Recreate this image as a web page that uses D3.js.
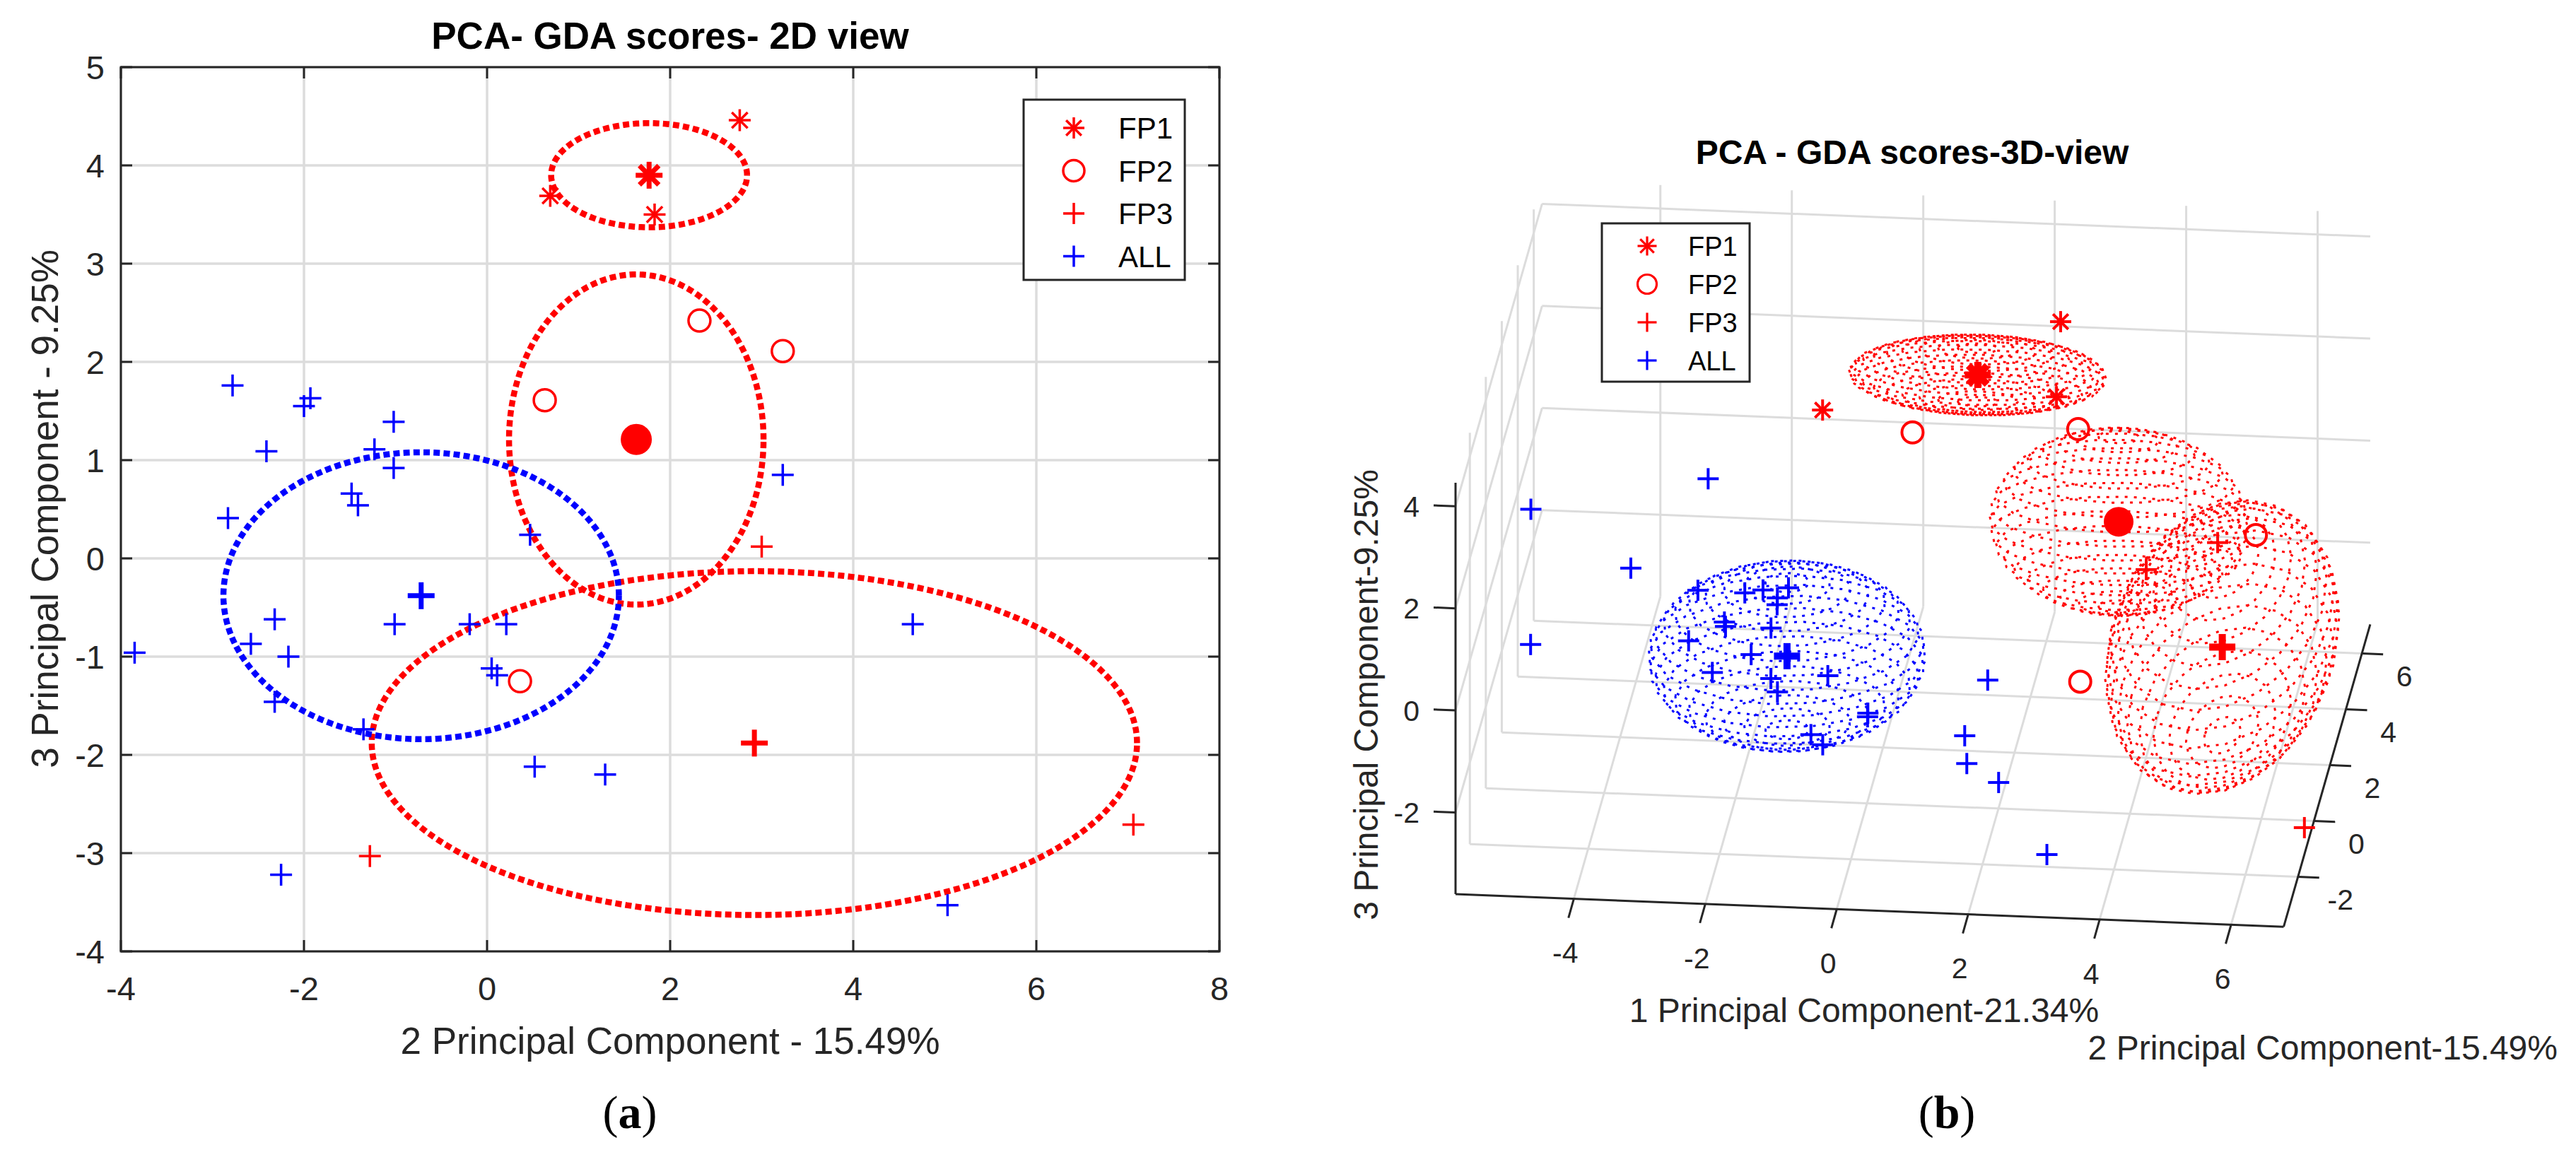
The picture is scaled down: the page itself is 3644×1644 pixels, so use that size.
<!DOCTYPE html>
<html>
<head>
<meta charset="utf-8">
<script src="https://cdn.jsdelivr.net/npm/d3@7"></script>
<style>
  body { margin: 0; background: #fff; }
  text { font-family: "Liberation Sans", Arial, sans-serif; fill: #262626; }
</style>
</head>
<body>
<script>
// ---- data ----
const groups = ["FP1", "FP2", "FP3", "ALL"];
const colors = ["#ff0000", "#ff0000", "#ff0000", "#0000ff"];
const symbols = ["asterisk", "circle", "plus", "plus"];

// scores: pc1 = 1st component, pc2 = 2nd, pc3 = 3rd
const fp1_pc1 = [2.61, -0.76, 2.66];
const fp1_pc2 = [2.76, 0.69, 1.83];
const fp1_pc3 = [4.46, 3.69, 3.50];

const fp2_pc1 = [0.41, 2.82, 5.84, 3.20];
const fp2_pc2 = [2.32, 3.23, 0.63, 0.36];
const fp2_pc3 = [2.42, 2.11, 1.61, -1.25];

const fp3_pc1 = [4.97, 3.39, 6.81];
const fp3_pc2 = [3.00, 7.06, -1.28];
const fp3_pc3 = [0.12, -2.71, -3.03];

const all_pc1 = [2.47, -1.03, -0.96, -2.33, -1.86, -3.47, -1.71, -1.24, -1.99, -1.29, -2.01, -1.64, -2.81, 0.29,
                 -1.34, -1.74, -2.74, -0.54, 1.75, 1.83, -0.61, 1.80, -0.51, -0.05, -1.52, -5.68, -5.73, 3.01];
const all_pc2 = [-3.85, -2.78, -1.93, -2.00, -2.41, -1.02, -1.23, -1.02, -1.48, -1.41, -2.83, 0.47, 3.23, -2.32,
                 -1.01, -0.19, 0.21, -2.58, -2.17, 0.05, 0.11, -2.32, -1.35, 0.52, 1.29, 4.65, 5.03, -2.25];
const all_pc3 = [-0.96, 1.76, 1.63, 1.55, 1.09, 1.39, 1.11, 0.92, 0.66, 0.54, 0.41, 0.24, 0.85, -0.62,
                 -0.67, -0.67, -0.67, -0.87, -1.00, -1.12, -1.19, -1.46, -1.74, -2.12, -2.20, -0.67, -3.53, -3.22];

// group centres and confidence radii (FP1, FP2, FP3, ALL)
const centre_pc1 = [1.47, 3.63, 5.05, -1.13];
const centre_pc2 = [1.77, 1.63, 2.92, -0.72];
const centre_pc3 = [3.90, 1.21, -1.88, -0.38];
const radius_pc1 = [1.96, 1.96, 1.71, 2.10];
const radius_pc2 = [1.07, 1.39, 4.18, 2.16];
const radius_pc3 = [0.53, 1.68, 1.75, 1.46];

const ticks2dX = [-4, -2, 0, 2, 4, 6, 8];
const ticks2dY = [-4, -3, -2, -1, 0, 1, 2, 3, 4, 5];
const ticks3dX = [-4, -2, 0, 2, 4, 6];
const ticks3dY = [-2, 0, 2, 4, 6];
const ticks3dZ = [-2, 0, 2, 4];

const seriesPC1 = [fp1_pc1, fp2_pc1, fp3_pc1, all_pc1];
const seriesPC2 = [fp1_pc2, fp2_pc2, fp3_pc2, all_pc2];
const seriesPC3 = [fp1_pc3, fp2_pc3, fp3_pc3, all_pc3];

const AX = "#262626", GRID = "#dcdcdc";

const svg = d3.select("body").append("svg")
  .attr("width", 3644).attr("height", 1644)
  .style("background", "#fff");

// draw one MATLAB-like marker
function marker(g, type, x, y, size, color, sw, filled) {
  const h = size / 2;
  if (type === "circle") {
    g.append("circle").attr("cx", x).attr("cy", y).attr("r", h)
      .attr("fill", filled ? color : "none")
      .attr("stroke", color).attr("stroke-width", sw);
    return;
  }
  const segs = [[-h, 0, h, 0], [0, -h, 0, h]];
  if (type === "asterisk") {
    const d = h * 0.72;
    segs.push([-d, -d, d, d], [-d, d, d, -d]);
  }
  segs.forEach(s => g.append("line")
    .attr("x1", x + s[0]).attr("y1", y + s[1])
    .attr("x2", x + s[2]).attr("y2", y + s[3])
    .attr("stroke", color).attr("stroke-width", sw));
}

// ================= (a) 2D view =================
const x2 = d3.scaleLinear().domain([-4, 8]).range([171, 1725]);
const y2 = d3.scaleLinear().domain([-4, 5]).range([1346, 95]);
const g2 = svg.append("g");

// grid
g2.selectAll(".gx").data(ticks2dX).join("line")
  .attr("x1", d => x2(d)).attr("x2", d => x2(d))
  .attr("y1", y2(-4)).attr("y2", y2(5))
  .attr("stroke", GRID).attr("stroke-width", 3.5);
g2.selectAll(".gy").data(ticks2dY).join("line")
  .attr("y1", d => y2(d)).attr("y2", d => y2(d))
  .attr("x1", x2(-4)).attr("x2", x2(8))
  .attr("stroke", GRID).attr("stroke-width", 3.5);

// confidence ellipses
const tSteps = d3.range(0, 2 * Math.PI + 0.001, Math.PI / 120);
groups.forEach((grp, i) => {
  const line = d3.line()
    .x(t => x2(centre_pc2[i] + radius_pc2[i] * Math.cos(t)))
    .y(t => y2(centre_pc3[i] + radius_pc3[i] * Math.sin(t)));
  g2.append("path").attr("d", line(tSteps))
    .attr("fill", "none").attr("stroke", colors[i])
    .attr("stroke-width", 8.5).attr("stroke-dasharray", "9 5.2");
});

// points
groups.forEach((grp, i) => {
  seriesPC2[i].forEach((v, k) => {
    marker(g2, symbols[i], x2(v), y2(seriesPC3[i][k]), 31, colors[i], 3.5, false);
  });
});
// centres
groups.forEach((grp, i) => {
  const cx = x2(centre_pc2[i]), cy = y2(centre_pc3[i]);
  if (symbols[i] === "circle") marker(g2, "circle", cx, cy, 42, colors[i], 2, true);
  else marker(g2, symbols[i], cx, cy, 38, colors[i], 7, false);
});

// box + ticks
g2.append("rect").attr("x", x2(-4)).attr("y", y2(5))
  .attr("width", x2(8) - x2(-4)).attr("height", y2(-4) - y2(5))
  .attr("fill", "none").attr("stroke", AX).attr("stroke-width", 3);
ticks2dX.forEach(d => {
  g2.append("line").attr("x1", x2(d)).attr("x2", x2(d)).attr("y1", y2(-4)).attr("y2", y2(-4) - 16).attr("stroke", AX).attr("stroke-width", 3);
  g2.append("line").attr("x1", x2(d)).attr("x2", x2(d)).attr("y1", y2(5)).attr("y2", y2(5) + 16).attr("stroke", AX).attr("stroke-width", 3);
  g2.append("text").attr("x", x2(d)).attr("y", 1398).attr("dy", "0.36em")
    .attr("text-anchor", "middle").attr("font-size", 47).text(d);
});
ticks2dY.forEach(d => {
  g2.append("line").attr("y1", y2(d)).attr("y2", y2(d)).attr("x1", x2(-4)).attr("x2", x2(-4) + 16).attr("stroke", AX).attr("stroke-width", 3);
  g2.append("line").attr("y1", y2(d)).attr("y2", y2(d)).attr("x1", x2(8)).attr("x2", x2(8) - 16).attr("stroke", AX).attr("stroke-width", 3);
  g2.append("text").attr("x", 148).attr("y", y2(d)).attr("dy", "0.36em")
    .attr("text-anchor", "end").attr("font-size", 47).text(d);
});

g2.append("text").attr("x", 948).attr("y", 50).attr("dy", "0.36em")
  .attr("text-anchor", "middle").attr("font-size", 53).attr("font-weight", "bold")
  .style("fill", "#000").text("PCA- GDA scores- 2D view");
g2.append("text").attr("x", 948).attr("y", 1472).attr("dy", "0.36em")
  .attr("text-anchor", "middle").attr("font-size", 53).text("2 Principal Component - 15.49%");
g2.append("text").attr("transform", "translate(63,720) rotate(-90)").attr("dy", "0.36em")
  .attr("text-anchor", "middle").attr("font-size", 53).text("3 Principal Component - 9.25%");

// legend (a)
const lg2 = g2.append("g");
lg2.append("rect").attr("x", 1448).attr("y", 141).attr("width", 228).attr("height", 255)
  .attr("fill", "#fff").attr("stroke", AX).attr("stroke-width", 3);
groups.forEach((grp, i) => {
  const yy = 181 + i * 60.5;
  marker(lg2, symbols[i], 1519, yy, 30, colors[i], 3.5, false);
  lg2.append("text").attr("x", 1582).attr("y", yy).attr("dy", "0.36em")
    .attr("font-size", 42).style("fill", "#000").text(grp);
});

// ================= (b) 3D view =================
const lim = { x: [-5.8, 6.8], y: [-3.79, 7.04], z: [-3.6, 4.46] };
const u3 = d3.scaleLinear().domain(lim.x).range([0, 1]);
const v3 = d3.scaleLinear().domain(lim.y).range([0, 1]);
const w3 = d3.scaleLinear().domain(lim.z).range([0, 1]);
// screen positions of the box origin and of the three axis ends
const O = [2059, 1265], EX = [3230.5, 1311.2], EY = [2181.4, 837.2], EZ = [2059, 683];
function proj(x, y, z) {
  const a = u3(x), b = v3(y), c = w3(z);
  return [O[0] + a * (EX[0] - O[0]) + b * (EY[0] - O[0]) + c * (EZ[0] - O[0]),
          O[1] + a * (EX[1] - O[1]) + b * (EY[1] - O[1]) + c * (EZ[1] - O[1])];
}
const g3 = svg.append("g");
function seg(g, p, q, color, sw) {
  g.append("line").attr("x1", p[0]).attr("y1", p[1]).attr("x2", q[0]).attr("y2", q[1])
    .attr("stroke", color).attr("stroke-width", sw);
}
const [x0, x1] = lim.x, [y0, y1] = lim.y, [z0, z1] = lim.z;

// grid: back wall, left wall, floor
ticks3dX.forEach(d => {
  seg(g3, proj(d, y1, z0), proj(d, y1, z1), GRID, 3);
  seg(g3, proj(d, y0, z0), proj(d, y1, z0), GRID, 3);
});
ticks3dY.forEach(d => {
  seg(g3, proj(x0, d, z0), proj(x0, d, z1), GRID, 3);
  seg(g3, proj(x0, d, z0), proj(x1, d, z0), GRID, 3);
});
ticks3dZ.forEach(d => {
  seg(g3, proj(x0, y1, d), proj(x1, y1, d), GRID, 3);
  seg(g3, proj(x0, y0, d), proj(x0, y1, d), GRID, 3);
});

// axes
seg(g3, proj(x0, y0, z0), proj(x0, y0, z1), AX, 3);
seg(g3, proj(x0, y0, z0), proj(x1, y0, z0), AX, 3);
seg(g3, proj(x1, y0, z0), proj(x1, y1, z0), AX, 3);

ticks3dX.forEach(d => {
  const p = proj(d, y0, z0);
  seg(g3, p, [p[0] - 7.6, p[1] + 27], AX, 3);
  g3.append("text").attr("x", p[0] - 12).attr("y", p[1] + 76).attr("dy", "0.36em")
    .attr("text-anchor", "middle").attr("font-size", 41).text(d);
});
ticks3dY.forEach(d => {
  const p = proj(x1, d, z0);
  seg(g3, p, [p[0] + 30, p[1] + 1.2], AX, 3);
  g3.append("text").attr("x", p[0] + 60).attr("y", p[1] + 32).attr("dy", "0.36em")
    .attr("text-anchor", "middle").attr("font-size", 41).text(d);
});
ticks3dZ.forEach(d => {
  const p = proj(x0, y0, d);
  seg(g3, p, [p[0] - 31, p[1] - 1.2], AX, 3);
  g3.append("text").attr("x", 2008).attr("y", p[1]).attr("dy", "0.36em")
    .attr("text-anchor", "end").attr("font-size", 41).text(d);
});

// ellipsoid wireframes: latitude rings of MATLAB's ellipsoid (n = 20)
const n = 20;
const thetas = d3.range(n + 1).map(i => -Math.PI + 2 * Math.PI * i / n);
const phis = d3.range(n + 1).map(i => -Math.PI / 2 + Math.PI * i / n);
const pl = d3.line();
groups.forEach((grp, i) => {
  const pt = (th, ph) => proj(
    centre_pc1[i] + radius_pc1[i] * Math.cos(ph) * Math.cos(th),
    centre_pc2[i] + radius_pc2[i] * Math.cos(ph) * Math.sin(th),
    centre_pc3[i] + radius_pc3[i] * Math.sin(ph));
  const wg = g3.append("g").attr("fill", "none").attr("stroke", colors[i])
    .attr("stroke-width", 3).attr("stroke-dasharray", "4 9");
  phis.slice(1, -1).forEach(ph => wg.append("path").attr("d", pl(thetas.map(th => pt(th, ph)))));
});

// points
groups.forEach((grp, i) => {
  seriesPC1[i].forEach((v, k) => {
    const p = proj(v, seriesPC2[i][k], seriesPC3[i][k]);
    marker(g3, symbols[i], p[0], p[1], 30, colors[i], 4, false);
  });
});
groups.forEach((grp, i) => {
  const p = proj(centre_pc1[i], centre_pc2[i], centre_pc3[i]);
  if (symbols[i] === "circle") marker(g3, "circle", p[0], p[1], 40, colors[i], 2, true);
  else marker(g3, symbols[i], p[0], p[1], 37, colors[i], 10, false);
});

g3.append("text").attr("x", 2705).attr("y", 215).attr("dy", "0.36em")
  .attr("text-anchor", "middle").attr("font-size", 48).attr("font-weight", "bold")
  .style("fill", "#000").text("PCA - GDA scores-3D-view");
g3.append("text").attr("x", 2637).attr("y", 1429).attr("dy", "0.36em")
  .attr("text-anchor", "middle").attr("font-size", 48).text("1 Principal Component-21.34%");
g3.append("text").attr("x", 3618).attr("y", 1482).attr("dy", "0.36em")
  .attr("text-anchor", "end").attr("font-size", 48).text("2 Principal Component-15.49%");
g3.append("text").attr("transform", "translate(1932,983) rotate(-90)").attr("dy", "0.36em")
  .attr("text-anchor", "middle").attr("font-size", 48).text("3 Principal Component-9.25%");

// legend (b)
const lg3 = g3.append("g");
lg3.append("rect").attr("x", 2266).attr("y", 316).attr("width", 209).attr("height", 224)
  .attr("fill", "#fff").attr("stroke", AX).attr("stroke-width", 3);
groups.forEach((grp, i) => {
  const yy = 348 + i * 54;
  marker(lg3, symbols[i], 2330, yy, 27, colors[i], 3.2, false);
  lg3.append("text").attr("x", 2388).attr("y", yy).attr("dy", "0.36em")
    .attr("font-size", 38).style("fill", "#000").text(grp);
});

// panel captions
[["a", 891], ["b", 2754]].forEach(([c, x]) => {
  const t = svg.append("text").attr("x", x).attr("y", 1572).attr("dy", "0.36em")
    .attr("text-anchor", "middle").attr("font-size", 66)
    .style("font-family", "'Liberation Serif', 'Times New Roman', serif").style("fill", "#000");
  t.append("tspan").text("(");
  t.append("tspan").attr("font-weight", "bold").text(c);
  t.append("tspan").text(")");
});
</script>
</body>
</html>
